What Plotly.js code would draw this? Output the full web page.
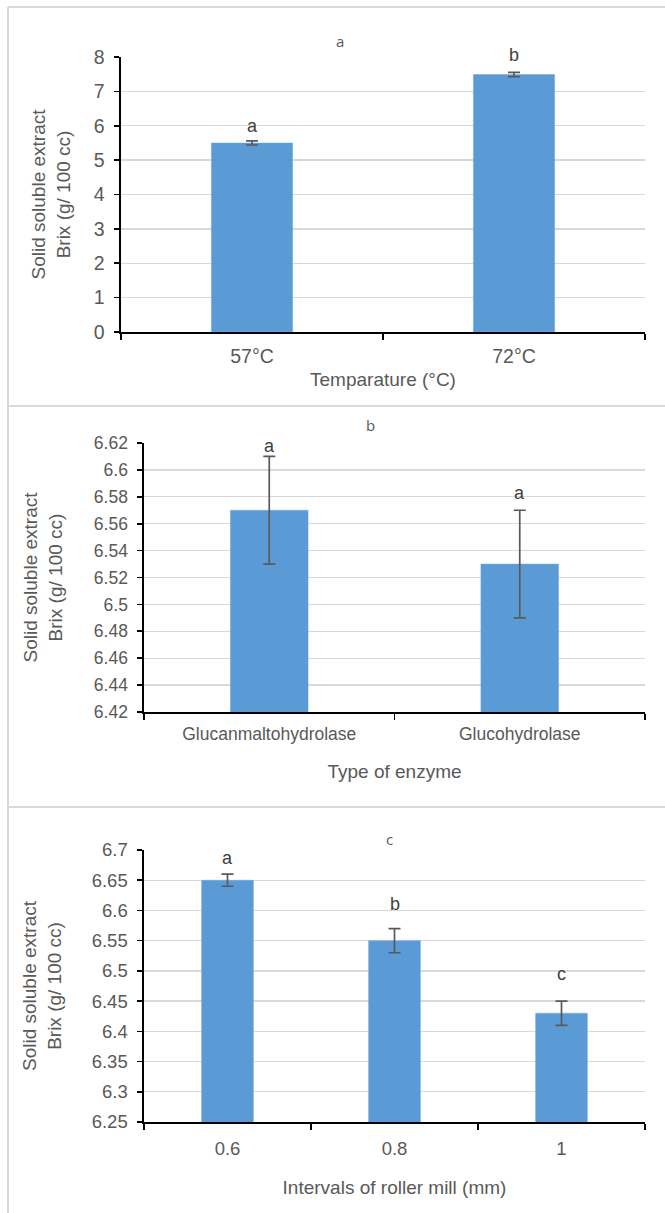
<!DOCTYPE html>
<html>
<head>
<meta charset="utf-8">
<script src="https://cdn.plot.ly/plotly-3.0.1.min.js"></script>
<style>html,body{margin:0;padding:0;background:#fff;}#chart{width:665px;height:1213px;}</style>
</head>
<body>
<div id="chart"></div>
<script>
// ---- Data ----
const tempCats = ['57°C', '72°C'];
const tempVals = [5.5, 7.49];
const tempErr = [0.06, 0.06];
const tempLetters = ['a', 'b'];

const enzCats = ['Glucanmaltohydrolase', 'Glucohydrolase'];
const enzVals = [6.57, 6.53];
const enzErr = [0.04, 0.04];
const enzLetters = ['a', 'a'];

const millCats = ['0.6', '0.8', '1'];
const millVals = [6.65, 6.55, 6.43];
const millErr = [0.01, 0.02, 0.02];
const millLetters = ['a', 'b', 'c'];

const panelTitles = ['a', 'b', 'c'];
const xTitles = ['Temparature (°C)', 'Type of enzyme', 'Intervals of roller mill (mm)'];
const yTitle = 'Solid soluble extract<br>Brix (g/ 100 cc)';

// ---- Style ----
const FONT = 'Liberation Sans, Arial, sans-serif';
const GREY = '#595959';
const BAR = '#5B9BD5';
const W = 665, H = 1213;
const px = v => v / W;
const py = v => 1 - v / H;

function barTrace(cats, vals, errs, xa, ya) {
  return {
    type: 'bar', x: cats, y: vals, xaxis: xa, yaxis: ya,
    width: 0.31,
    marker: {color: BAR, line: {color: '#6FA8DC', width: 0.5}},
    error_y: {type: 'data', array: errs, visible: true, color: GREY, thickness: 1.7, width: 6},
    hoverinfo: 'skip'
  };
}

const data = [
  barTrace(tempCats, tempVals, tempErr, 'x', 'y'),
  barTrace(enzCats, enzVals, enzErr, 'x2', 'y2'),
  barTrace(millCats, millVals, millErr, 'x3', 'y3')
];

function xAxis(domain, anchor, title, standoff, tls, fs) {
  return {
    domain: domain, anchor: anchor, type: 'category',
    showline: true, linecolor: '#000', linewidth: 1.6,
    ticks: 'outside', tickson: 'boundaries', ticklen: 6, tickwidth: 1.6, tickcolor: '#000',
    showgrid: false, zeroline: false,
    tickfont: {family: FONT, size: fs, color: GREY},
    ticklabelstandoff: tls,
    title: {text: title, font: {family: FONT, size: 19, color: GREY}, standoff: standoff},
    fixedrange: true
  };
}
function yAxis(domain, anchor, range, dtick, standoff, fs) {
  return {
    domain: domain, anchor: anchor, range: range, dtick: dtick,
    showline: true, linecolor: '#000', linewidth: 1.6,
    ticks: 'outside', ticklen: 5, tickwidth: 1.6, tickcolor: '#000',
    showgrid: true, gridcolor: '#d9d9d9', gridwidth: 1.3, zeroline: false,
    tickfont: {family: FONT, size: fs, color: GREY},
    ticklabelstandoff: 6,
    title: {text: yTitle, font: {family: FONT, size: 19, color: GREY}, standoff: standoff},
    fixedrange: true
  };
}

const annotations = [];
function letterAnn(cats, vals, errs, letters, xa, ya, shifts) {
  cats.forEach((c, i) => {
    annotations.push({
      x: i, y: vals[i] + errs[i], xref: xa, yref: ya,
      text: letters[i], showarrow: false, yanchor: 'middle',
      yshift: shifts[i],
      font: {family: FONT, size: 18, color: '#404040'}
    });
  });
}
letterAnn(tempCats, tempVals, tempErr, tempLetters, 'x', 'y', [15, 17]);
letterAnn(enzCats, enzVals, enzErr, enzLetters, 'x2', 'y2', [10, 17]);
letterAnn(millCats, millVals, millErr, millLetters, 'x3', 'y3', [16, 25, 27]);

const titlePos = [[340, 41], [370, 425], [389, 839]];
panelTitles.forEach((t, i) => {
  annotations.push({
    x: px(titlePos[i][0]), y: py(titlePos[i][1]), xref: 'paper', yref: 'paper',
    text: t, showarrow: false, xanchor: 'center', yanchor: 'middle',
    font: {family: 'Open Sans, ' + FONT, size: 15, color: GREY}
  });
});

const borderColor = '#d9d9d9';
const shapes = [
  {type: 'line', xref: 'paper', yref: 'paper', x0: px(8), x1: 1, y0: py(7), y1: py(7), line: {color: borderColor, width: 2}},
  {type: 'line', xref: 'paper', yref: 'paper', x0: px(8), x1: 1, y0: py(406), y1: py(406), line: {color: borderColor, width: 2}},
  {type: 'line', xref: 'paper', yref: 'paper', x0: px(8), x1: 1, y0: py(807), y1: py(807), line: {color: borderColor, width: 2}},
  {type: 'line', xref: 'paper', yref: 'paper', x0: px(8), x1: px(8), y0: py(7), y1: 0, line: {color: borderColor, width: 2}}
];

const layout = {
  width: W, height: H,
  margin: {l: 0, r: 0, t: 0, b: 0},
  paper_bgcolor: '#fff', plot_bgcolor: '#fff',
  showlegend: false,
  xaxis: xAxis([px(121), px(645)], 'y', xTitles[0], 6, 6, 19.5),
  yaxis: yAxis([py(332), py(57)], 'x', [0, 8], 1, 18, 19.5),
  xaxis2: xAxis([px(144), px(645)], 'y2', xTitles[1], 22, 5, 17.5),
  yaxis2: yAxis([py(712), py(443)], 'x2', [6.42, 6.62], 0.02, 26, 17.5),
  xaxis3: xAxis([px(144), px(645)], 'y3', xTitles[2], 23, 9, 18.5),
  yaxis3: yAxis([py(1122), py(850)], 'x3', [6.25, 6.7], 0.05, 25, 18.5),
  annotations: annotations,
  shapes: shapes
};

Plotly.newPlot('chart', data, layout, {displayModeBar: false, staticPlot: true});
</script>
</body>
</html>
